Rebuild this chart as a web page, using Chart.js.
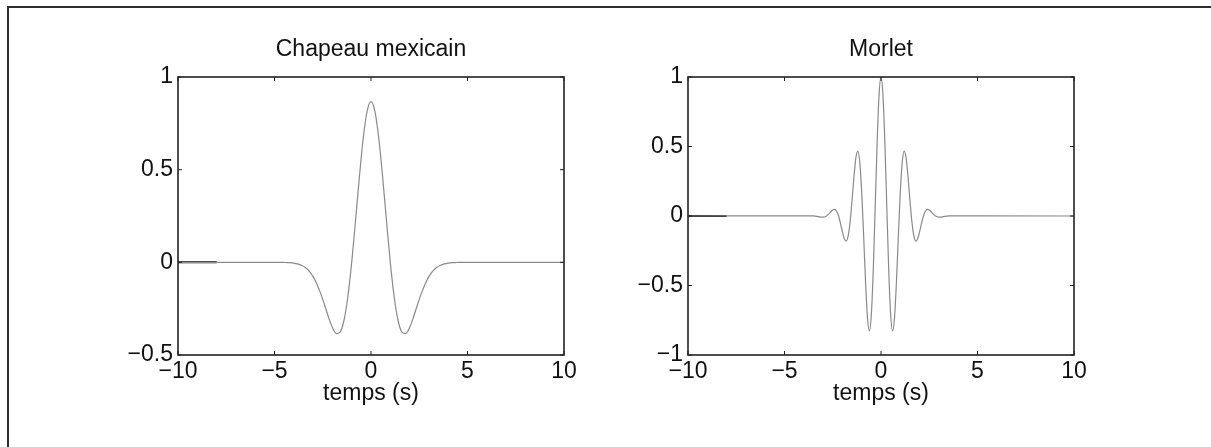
<!DOCTYPE html>
<html lang="fr">
<head>
<meta charset="utf-8">
<title>Ondelettes</title>
<script src="https://cdn.jsdelivr.net/npm/chart.js@4.4.1/dist/chart.umd.min.js"></script>
<style>
    html, body { margin: 0; padding: 0; background: #fff; overflow: hidden; }
    #page { position: relative; width: 1211px; height: 447px; }
    #cadre {
        position: absolute; left: 7px; top: 6px; width: 1210px; height: 450px;
        border-top: 2px solid #303030; border-left: 2px solid #303030;
    }
    .graphe { position: absolute; top: 20px; width: 494px; height: 405px; }
    #grapheChapeau { left: 100px; }
    #grapheMorlet { left: 610px; }
</style>
</head>
<body>
<div id="page">
    <div id="cadre"></div>
    <canvas id="grapheChapeau" class="graphe" width="494" height="405"></canvas>
    <canvas id="grapheMorlet" class="graphe" width="494" height="405"></canvas>
</div>
<script>
// Chapeau mexicain (temps en s, amplitude)
const tempsChapeau = [-10, -5, -4.8, -4.6, -4.4, -4.2, -4, -3.8, -3.6, -3.4, -3.2, -3, -2.8, -2.6, -2.4, -2.2, -2, -1.8, -1.6, -1.4, -1.2, -1, -0.8, -0.6, -0.4, -0.2,
    0, 0.2, 0.4, 0.6, 0.8, 1, 1.2, 1.4, 1.6, 1.8, 2, 2.2, 2.4, 2.6, 2.8, 3, 3.2, 3.4, 3.6, 3.8, 4, 4.2, 4.4, 4.6, 4.8, 5, 10];
const valeursChapeau = [0, 0, -0.0002, -0.0004, -0.0010, -0.0021, -0.0044, -0.0085, -0.0159, -0.0283, -0.0479, -0.0771, -0.1177, -0.1701, -0.2317, -0.2961, -0.3521, -0.3845, -0.3762, -0.3125, -0.1857, 0, 0.2267, 0.4636, 0.6725, 0.8161,
    0.8673, 0.8161, 0.6725, 0.4636, 0.2267, 0, -0.1857, -0.3125, -0.3762, -0.3845, -0.3521, -0.2961, -0.2317, -0.1701, -0.1177, -0.0771, -0.0479, -0.0283, -0.0159, -0.0085, -0.0044, -0.0021, -0.0010, -0.0004, -0.0002, 0, 0];

// Morlet
const tempsMorlet = [-10, -3.5, -3.4, -3.3, -3.2, -3.1, -3, -2.9, -2.8, -2.7, -2.6, -2.5, -2.4, -2.3, -2.2, -2.1, -2, -1.9, -1.8, -1.7, -1.6, -1.5, -1.4, -1.3, -1.2, -1.1, -1, -0.9, -0.8, -0.7, -0.6, -0.5, -0.4, -0.3, -0.2, -0.1,
    0, 0.1, 0.2, 0.3, 0.4, 0.5, 0.6, 0.7, 0.8, 0.9, 1, 1.1, 1.2, 1.3, 1.4, 1.5, 1.6, 1.7, 1.8, 1.9, 2, 2.1, 2.2, 2.3, 2.4, 2.5, 2.6, 2.7, 2.8, 2.9, 3, 3.1, 3.2, 3.3, 3.4, 3.5, 10];
const valeursMorlet = [0, 0.0005, -0.0009, -0.0030, -0.0057, -0.0081, -0.0084, -0.0053, 0.0027, 0.0155, 0.0309, 0.0438, 0.0474, 0.0343, 0.0004, -0.0524, -0.1136, -0.1640, -0.1803, -0.1419, -0.0405, 0.1125, 0.2829, 0.4195, 0.4674, 0.3870, 0.1720, -0.1406, -0.4746, -0.7330, -0.8269, -0.7070, -0.3842, 0.0676, 0.5296, 0.8732,
    1.0000, 0.8732, 0.5296, 0.0676, -0.3842, -0.7070, -0.8269, -0.7330, -0.4746, -0.1406, 0.1720, 0.3870, 0.4674, 0.4195, 0.2829, 0.1125, -0.0405, -0.1419, -0.1803, -0.1640, -0.1136, -0.0524, 0.0004, 0.0343, 0.0474, 0.0438, 0.0309, 0.0155, 0.0027, -0.0053, -0.0084, -0.0081, -0.0057, -0.0030, -0.0009, 0.0005, 0];

// petit trait noir au début de l'axe zéro
const tempsTrait = [-10, -8];
const valeursTrait = [0, 0];

// graduations
const ticksTemps = [-10, -5, 0, 5, 10];
const ticksChapeau = [-0.5, 0, 0.5, 1];
const ticksMorlet = [-1, -0.5, 0, 0.5, 1];

const police = 'Liberation Sans, Arial, Helvetica, sans-serif';

// cadre des axes + graduations tournées vers l'intérieur
const cadreAxes = {
    id: 'cadreAxes',
    afterDraw(chart) {
        const { ctx, chartArea: a, scales: { x, y } } = chart;
        ctx.save();
        ctx.strokeStyle = '#222';
        ctx.lineWidth = 1;
        ctx.beginPath();
        x.ticks.forEach(t => {
            const px = x.getPixelForValue(t.value);
            ctx.moveTo(px, a.bottom); ctx.lineTo(px, a.bottom - 4);
            ctx.moveTo(px, a.top); ctx.lineTo(px, a.top + 4);
        });
        y.ticks.forEach(t => {
            const py = y.getPixelForValue(t.value);
            ctx.moveTo(a.left, py); ctx.lineTo(a.left + 4, py);
            ctx.moveTo(a.right, py); ctx.lineTo(a.right - 4, py);
        });
        ctx.stroke();
        ctx.lineWidth = 1.6;
        ctx.strokeRect(a.left, a.top, a.width, a.height);
        ctx.restore();
    }
};

function versPoints(xs, ys) {
    return xs.map((v, i) => ({ x: v, y: ys[i] }));
}

function signe(v) {
    return String(v).replace('-', '\u2212');
}

function creerOndelette(id, titre, temps, valeurs, ticksY) {
    const ctx = document.getElementById(id).getContext('2d');
    return new Chart(ctx, {
        type: 'line',
        data: {
            datasets: [{
                data: versPoints(temps, valeurs),
                borderColor: '#8a8a8a',
                borderWidth: 1.2,
                pointRadius: 0,
                cubicInterpolationMode: 'monotone',
                fill: false
            }, {
                data: versPoints(tempsTrait, valeursTrait),
                borderColor: '#000',
                borderWidth: 2,
                pointRadius: 0,
                fill: false
            }]
        },
        options: {
            responsive: false,
            animation: false,
            events: [],
            layout: { padding: { top: 0, right: 30, bottom: 0, left: 0 } },
            plugins: {
                legend: { display: false },
                tooltip: { enabled: false },
                title: {
                    display: true,
                    text: titre,
                    fullSize: false,
                    color: '#111',
                    font: { family: police, size: 23, weight: 'normal' },
                    padding: { top: 16.2, bottom: 13.2 }
                }
            },
            scales: {
                x: {
                    type: 'linear',
                    min: -10,
                    max: 10,
                    afterBuildTicks: axis => { axis.ticks = ticksTemps.map(v => ({ value: v })); },
                    afterFit: axis => { axis.height = 70; },
                    grid: { display: false, drawTicks: false },
                    border: { display: false },
                    ticks: {
                        padding: 3,
                        color: '#111',
                        maxRotation: 0,
                        autoSkip: false,
                        font: { family: police, size: 23 },
                        callback: v => signe(v)
                    },
                    title: {
                        display: true,
                        text: 'temps (s)',
                        color: '#111',
                        font: { family: police, size: 23 },
                        padding: { top: 0, bottom: 17.2 }
                    }
                },
                y: {
                    type: 'linear',
                    min: ticksY[0],
                    max: ticksY[ticksY.length - 1],
                    afterBuildTicks: axis => { axis.ticks = ticksY.map(v => ({ value: v })); },
                    afterFit: axis => { axis.width = 78; },
                    grid: { display: false, drawTicks: false },
                    border: { display: false },
                    ticks: {
                        padding: 5,
                        color: '#111',
                        autoSkip: false,
                        font: { family: police, size: 23 },
                        callback: v => signe(v)
                    }
                }
            }
        },
        plugins: [cadreAxes]
    });
}

creerOndelette('grapheChapeau', 'Chapeau mexicain', tempsChapeau, valeursChapeau, ticksChapeau);
creerOndelette('grapheMorlet', 'Morlet', tempsMorlet, valeursMorlet, ticksMorlet);
</script>
</body>
</html>
